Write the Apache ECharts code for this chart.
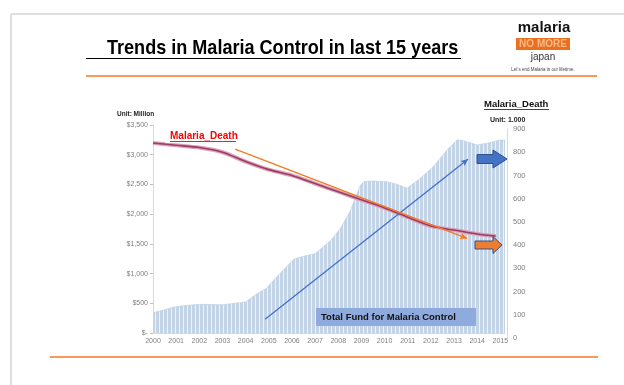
<!DOCTYPE html>
<html><head><meta charset="utf-8">
<script src="https://cdn.jsdelivr.net/npm/echarts@6/dist/echarts.min.js"></script>
<style>html,body{margin:0;padding:0;background:#fff}#c{width:624px;height:385px}</style>
</head><body><div id="c"></div>
<script>
// ---- data ----
const fundYears = [2000, 2000.5, 2000.85, 2001.3, 2002, 2003, 2003.75, 2004, 2004.45, 2004.9, 2005.35, 2005.8, 2006.1, 2006.55, 2007, 2007.35, 2007.7, 2008.1, 2008.5, 2008.95, 2009.1, 2009.5, 2010.1, 2010.5, 2010.97, 2011.55, 2012.1, 2012.7, 2013.13, 2013.4, 2014, 2014.43, 2015, 2015.2];
const fundValues = [342, 390, 432, 460, 482, 476, 510, 522, 651, 752, 948, 1128, 1245, 1296, 1335, 1450, 1565, 1762, 2040, 2480, 2546, 2558, 2546, 2508, 2435, 2604, 2799, 3080, 3248, 3237, 3164, 3193, 3248, 3248];
const deathYears = [2000, 2001, 2002, 2003, 2004, 2005, 2006, 2007, 2008, 2009, 2010, 2011, 2012, 2013, 2014, 2014.8];
const deathValues = [840, 830, 820, 800, 760, 725, 700, 665, 630, 595, 560, 520, 482, 465, 448, 439];
const yearTicks = [2000, 2015];
const fundAxis = [0, 3500, 500];
const deathAxis = [0, 900, 100];
const fundTrend = [[2004.84, 231], [2013.6, 2923]];
const deathTrend = [[2003.55, 813], [2013.56, 429]];

const pat = document.createElement('canvas');
pat.width = 4; pat.height = 4;
const pc = pat.getContext('2d');
pc.fillStyle = '#c3d4e7'; pc.fillRect(0, 0, 4, 4);
pc.fillStyle = '#edf2f8'; pc.fillRect(3, 0, 1, 4);

const chart = echarts.init(document.getElementById('c'), null, {renderer: 'canvas'});
const lblFont = {fontFamily: '"Liberation Sans", Arial, sans-serif', fontSize: 7, color: '#7f7f7f'};

function txt(x, y, text, font, fill, extra) {
  return Object.assign({type: 'text', x: x, y: y, z: 50,
    style: Object.assign({text: text, font: font, fill: fill, textVerticalAlign: 'middle'}, extra || {})});
}
function line(x1, y1, x2, y2, stroke, w) {
  return {type: 'line', z: 50, shape: {x1: x1, y1: y1, x2: x2, y2: y2}, style: {stroke: stroke, lineWidth: w}};
}
function blockArrow(x0, xm, x1, cy, bh, hh, fill) {
  return {type: 'polygon', z: 60, shape: {points: [[x0, cy - bh], [xm, cy - bh], [xm, cy - hh], [x1, cy], [xm, cy + hh], [xm, cy + bh], [x0, cy + bh]]},
    style: {fill: fill, stroke: '#2f528f', lineWidth: 1}};
}

const option = {
  animation: false,
  backgroundColor: '#ffffff',
  grid: [
    {left: 153, top: 125, width: 352, height: 208},
    {left: 153, top: 129, width: 352, height: 209}
  ],
  xAxis: [
    {type: 'value', gridIndex: 0, min: yearTicks[0], max: 2015.2, interval: 1,
      axisLine: {show: true, lineStyle: {color: '#d9d9d9'}}, axisTick: {show: false},
      splitLine: {show: false},
      axisLabel: Object.assign({margin: 5, showMaxLabel: false, formatter: v => String(v)}, lblFont)},
    {type: 'value', gridIndex: 1, min: yearTicks[0], max: 2015.2, show: false, splitLine: {show: false}}
  ],
  yAxis: [
    {type: 'value', gridIndex: 0, min: fundAxis[0], max: fundAxis[1], interval: fundAxis[2],
      axisLine: {show: true, lineStyle: {color: '#d9d9d9'}},
      axisTick: {show: true, length: 3, lineStyle: {color: '#bfbfbf'}},
      splitLine: {show: false},
      axisLabel: Object.assign({margin: 5, formatter: v => v === 0 ? '$-' : '$' + v.toLocaleString('en-US')}, lblFont)},
    {type: 'value', gridIndex: 1, position: 'right', min: deathAxis[0], max: deathAxis[1], interval: deathAxis[2],
      axisLine: {show: true, lineStyle: {color: '#d9d9d9'}}, axisTick: {show: false},
      splitLine: {show: false}, offset: 2,
      axisLabel: Object.assign({margin: 6}, lblFont, {fontSize: 7.5})}
  ],
  series: [
    {type: 'line', xAxisIndex: 0, yAxisIndex: 0, symbol: 'none', z: 2,
      data: fundYears.map((y, i) => [y, fundValues[i]]),
      lineStyle: {width: 0.6, color: '#b8cbe0'},
      areaStyle: {color: {image: pat, repeat: 'repeat'}, opacity: 1},
      markLine: {silent: true, symbol: ['none', 'arrow'], symbolSize: [5, 7], label: {show: false},
        lineStyle: {color: '#4472c4', width: 1.3, type: 'solid'},
        data: [[{coord: fundTrend[0]}, {coord: fundTrend[1]}]]}
    },
    {type: 'line', xAxisIndex: 1, yAxisIndex: 1, symbol: 'none', smooth: 0.3, z: 3,
      data: deathYears.map((y, i) => [y, deathValues[i]]),
      lineStyle: {width: 4, color: '#dca3b7'}},
    {type: 'line', xAxisIndex: 1, yAxisIndex: 1, symbol: 'none', smooth: 0.3, z: 4,
      data: deathYears.map((y, i) => [y, deathValues[i]]),
      lineStyle: {width: 1.6, color: '#9a3d68'},
      markLine: {silent: true, symbol: ['none', 'arrow'], symbolSize: [5, 7], label: {show: false},
        lineStyle: {color: '#f47920', width: 1.4, type: 'solid'},
        data: [[{coord: deathTrend[0]}, {coord: deathTrend[1]}]]}
    }
  ],
  graphic: [
    line(11, 14, 624, 14, '#d4d4d4', 1.5),
    line(11, 14, 11, 385, '#d4d4d4', 1.5),
    line(86, 76, 597, 76, '#f47920', 1.5),
    line(50, 357, 598, 357, '#f47920', 1.5),
    {type: 'text', x: 107, y: 48, scaleX: 0.86, z: 50,
      style: {text: 'Trends in Malaria Control in last 15 years', font: 'bold 21px "Liberation Sans", Arial, sans-serif', fill: '#000', textVerticalAlign: 'middle'}},
    line(86, 58.5, 461, 58.5, '#000', 1),
    // logo
    txt(544, 28, 'malaria', 'bold 15px "Liberation Sans", Arial, sans-serif', '#111', {textAlign: 'center'}),
    {type: 'rect', z: 50, shape: {x: 516, y: 38, width: 54, height: 12}, style: {fill: '#e8701e'}},
    txt(543, 44.5, 'NO MORE', 'bold 10px "Liberation Sans", Arial, sans-serif', '#f9b98a', {textAlign: 'center'}),
    txt(543, 57, 'japan', '10px "Liberation Sans", Arial, sans-serif', '#333', {textAlign: 'center'}),
    txt(543, 70, "Let's end Malaria in our lifetime.", '4.5px "Liberation Sans", Arial, sans-serif', '#444', {textAlign: 'center'}),
    // labels
    txt(117, 114, 'Unit: Million', 'bold 6.5px "Liberation Sans", Arial, sans-serif', '#222'),
    txt(484, 104, 'Malaria_Death', 'bold 9.5px "Liberation Sans", Arial, sans-serif', '#111'),
    line(484, 109.5, 549, 109.5, '#111', 0.8),
    {type: 'rect', z: 55, shape: {x: 487, y: 114, width: 44, height: 11}, style: {fill: '#fff'}},
    txt(490, 120, 'Unit: 1.000', 'bold 7px "Liberation Sans", Arial, sans-serif', '#222', {}),
    {type: 'rect', z: 45, shape: {x: 165, y: 128, width: 76, height: 15}, style: {fill: '#fff'}},
    txt(170, 136, 'Malaria_Death', 'bold 10px "Liberation Sans", Arial, sans-serif', '#ff0000'),
    line(170, 141.5, 236, 141.5, '#ff0000', 0.9),
    // block arrows
    blockArrow(477, 493, 507, 159, 4.5, 9, '#4472c4'),
    blockArrow(475, 493, 502, 245, 4, 8.5, '#ed7d31'),
    // total fund box
    {type: 'rect', z: 60, shape: {x: 316, y: 308, width: 160, height: 18}, style: {fill: '#8faadc'}},
    txt(321, 317, 'Total Fund for Malaria Control', 'bold 9.5px "Liberation Sans", Arial, sans-serif', '#111', {}),
    line(321, 322, 454, 322, '#111', 0.8)
  ]
};
option.graphic.forEach(g => { if (g.type === 'text') g.z = 70; if (g.type === 'line') g.z = g.z || 70; });
chart.setOption(option);
</script></body></html>
